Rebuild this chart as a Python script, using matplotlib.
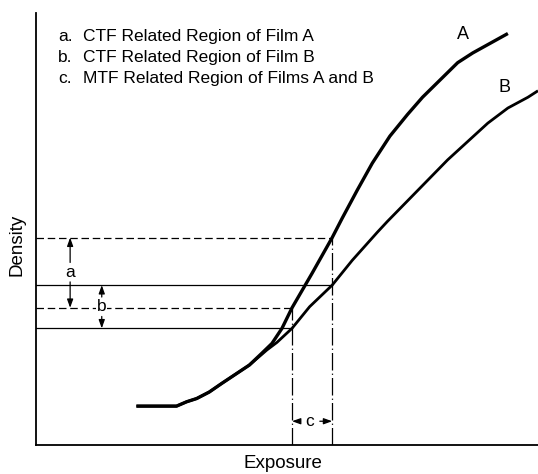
import numpy as np
import matplotlib
matplotlib.use("Agg")
import matplotlib.pyplot as plt

plt.rcParams["font.family"] = ["Liberation Sans", "DejaVu Sans"]

# characteristic curves (log exposure, density)
a_exp = [2.0, 2.8, 3.0, 3.2, 3.45, 3.7, 4.25, 4.5, 4.7, 4.9, 5.1, 5.35, 5.5,
         5.7, 5.9, 6.1, 6.4, 6.7, 7.05, 7.4, 7.7, 8.05, 8.4, 8.7, 9.05, 9.4]
a_den = [0.36, 0.36, 0.40, 0.43, 0.49, 0.57, 0.74, 0.85, 0.94, 1.08, 1.27, 1.47, 1.59,
         1.755, 1.92, 2.10, 2.36, 2.61, 2.86, 3.06, 3.22, 3.38, 3.54, 3.63, 3.72, 3.81]

b_exp = [2.0, 2.8, 3.0, 3.2, 3.45, 3.7, 4.25, 4.6, 4.8, 5.1, 5.45, 5.9,
         6.3, 6.8, 7.0, 7.4, 7.8, 8.2, 8.6, 9.0, 9.4, 9.8, 10.0]
b_den = [0.36, 0.36, 0.40, 0.43, 0.49, 0.57, 0.74, 0.88, 0.95, 1.08, 1.28, 1.48,
         1.71, 1.97, 2.07, 2.26, 2.45, 2.64, 2.81, 2.98, 3.12, 3.22, 3.28]

# exposure interval used for the MTF comparison
exp_lo, exp_hi = 5.1, 5.9

legend_keys = ["a.", "b.", "c."]
legend_text = ["CTF Related Region of Film A",
               "CTF Related Region of Film B",
               "MTF Related Region of Films A and B"]

fig = plt.figure(figsize=(5.38, 4.74), dpi=100)
ax = fig.add_axes([0.0669, 0.0612, 0.9331, 0.9114])
ax.set_xlim(0, 10)
ax.set_ylim(0, 4)

ax.plot(a_exp, a_den, color="black", lw=2.4, solid_capstyle="butt",
        solid_joinstyle="round", clip_on=False)
ax.plot(b_exp, b_den, color="black", lw=2.0, solid_capstyle="butt",
        solid_joinstyle="round", clip_on=False)

a_lo = np.interp(exp_lo, a_exp, a_den)
a_hi = np.interp(exp_hi, a_exp, a_den)
b_lo = np.interp(exp_lo, b_exp, b_den)
b_hi = np.interp(exp_hi, b_exp, b_den)

dash = (0, (6, 3))
dashdot = (0, (14, 2.5, 1, 2.5))
ax.plot([0, exp_hi], [a_hi, a_hi], color="black", lw=0.9, ls=dash)
ax.plot([0, exp_lo], [a_lo, a_lo], color="black", lw=0.9, ls=dash)
ax.plot([0, exp_hi], [b_hi, b_hi], color="black", lw=0.9)
ax.plot([0, exp_lo], [b_lo, b_lo], color="black", lw=0.9)
ax.plot([exp_lo, exp_lo], [0, a_lo], color="black", lw=0.9, ls=dashdot)
ax.plot([exp_hi, exp_hi], [0, a_hi], color="black", lw=0.9, ls=dashdot)

arrow = dict(arrowstyle="-|>,head_length=0.5,head_width=0.18", color="black",
             lw=0.9, shrinkA=7, shrinkB=0)


def span(label, pos, lo, hi, vertical=True):
    if vertical:
        ax.annotate("", xy=(pos[0], hi), xytext=pos, arrowprops=arrow)
        ax.annotate("", xy=(pos[0], lo), xytext=pos, arrowprops=arrow)
    else:
        ax.annotate("", xy=(hi, pos[1]), xytext=pos, arrowprops=arrow)
        ax.annotate("", xy=(lo, pos[1]), xytext=pos, arrowprops=arrow)
    ax.text(pos[0], pos[1], label, ha="center", va="center", fontsize=12.5,
            bbox=dict(facecolor="white", edgecolor="none", pad=0.5))


span("a", (0.68, 1.60), a_lo, a_hi)
span("b", (1.31, 1.28), b_lo, b_hi)
span("c", (5.46, 0.22), exp_lo, exp_hi, vertical=False)

for i, (k, t) in enumerate(zip(legend_keys, legend_text)):
    y = 3.78 - i * 0.195
    ax.text(0.44, y, k, ha="left", va="center", fontsize=12.5)
    ax.text(0.93, y, t, ha="left", va="center", fontsize=12.5)

ax.text(8.51, 3.80, "A", ha="center", va="center", fontsize=13)
ax.text(9.34, 3.31, "B", ha="center", va="center", fontsize=13)

for s in ["top", "right"]:
    ax.spines[s].set_visible(False)
for s in ["left", "bottom"]:
    ax.spines[s].set_linewidth(1.3)
ax.set_xticks([])
ax.set_yticks([])

ax.set_xlabel("Exposure", fontsize=13.5)
ax.xaxis.label.set_va("center")
ax.xaxis.set_label_coords(0.492, -0.042)
ax.set_ylabel("Density", fontsize=13.5)
ax.yaxis.label.set_va("center")
ax.yaxis.set_label_coords(-0.038, 0.463)

fig.savefig("out.png", dpi=100)
